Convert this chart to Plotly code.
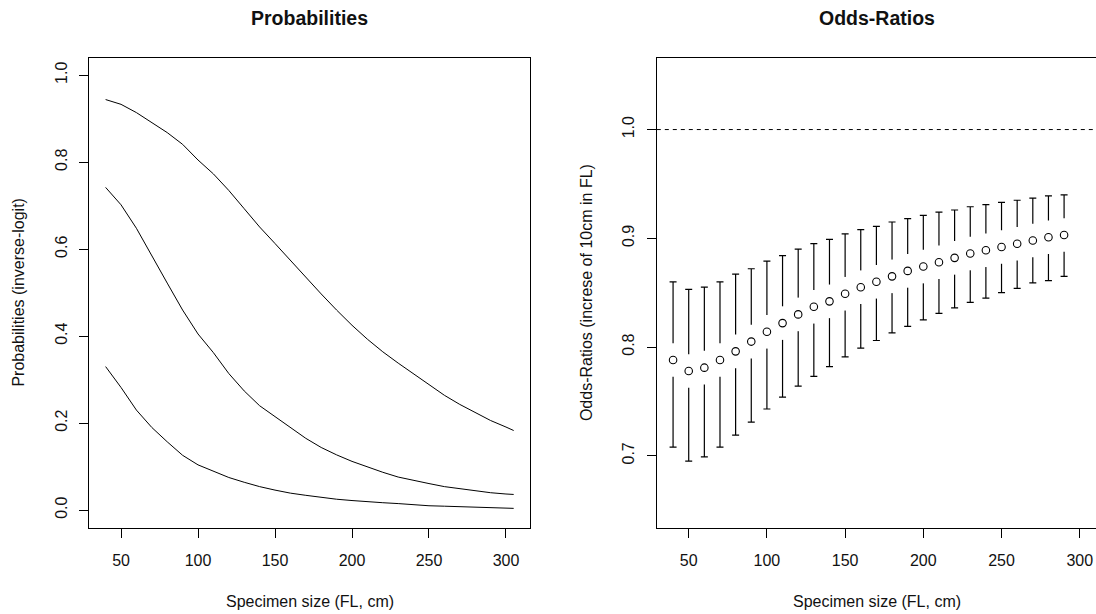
import plotly.graph_objects as go

# ---------------- data ----------------
fl_grid = [40, 50, 60, 70, 80, 90, 100, 110, 120, 130, 140, 150, 160, 170, 180,
           190, 200, 210, 220, 230, 240, 250, 260, 270, 280, 290, 300, 305]
prob_upper = [0.944, 0.933, 0.914, 0.892, 0.868, 0.841, 0.805, 0.773, 0.735, 0.693,
              0.651, 0.613, 0.574, 0.536, 0.497, 0.460, 0.425, 0.393, 0.364, 0.338,
              0.313, 0.289, 0.264, 0.243, 0.224, 0.206, 0.191, 0.183]
prob_mid = [0.742, 0.702, 0.648, 0.584, 0.522, 0.460, 0.405, 0.362, 0.314, 0.274,
            0.240, 0.215, 0.190, 0.165, 0.144, 0.127, 0.112, 0.099, 0.087, 0.076,
            0.068, 0.061, 0.054, 0.049, 0.044, 0.040, 0.037, 0.036]
prob_lower = [0.330, 0.282, 0.230, 0.190, 0.157, 0.126, 0.104, 0.089, 0.075, 0.064,
              0.054, 0.046, 0.039, 0.034, 0.029, 0.025, 0.022, 0.019, 0.017, 0.015,
              0.012, 0.010, 0.009, 0.008, 0.007, 0.006, 0.005, 0.004]

or_fl = [40, 50, 60, 70, 80, 90, 100, 110, 120, 130, 140, 150, 160,
         170, 180, 190, 200, 210, 220, 230, 240, 250, 260, 270, 280, 290]
or_est = [0.788, 0.778, 0.781, 0.788, 0.796, 0.805, 0.814, 0.822, 0.830, 0.837,
          0.842, 0.849, 0.855, 0.860, 0.865, 0.870, 0.874, 0.878, 0.882, 0.886,
          0.889, 0.892, 0.895, 0.898, 0.901, 0.903]
or_hi = [0.860, 0.853, 0.855, 0.860, 0.867, 0.872, 0.879, 0.884, 0.890, 0.895,
         0.899, 0.904, 0.908, 0.911, 0.915, 0.918, 0.921, 0.924, 0.926, 0.929,
         0.931, 0.933, 0.935, 0.937, 0.939, 0.940]
or_lo = [0.708, 0.695, 0.699, 0.708, 0.719, 0.731, 0.743, 0.754, 0.764, 0.773,
         0.782, 0.791, 0.799, 0.806, 0.813, 0.819, 0.825, 0.831, 0.836, 0.841,
         0.845, 0.850, 0.854, 0.859, 0.861, 0.865]

x_ticks = [50, 100, 150, 200, 250, 300]
prob_ticks = [0.0, 0.2, 0.4, 0.6, 0.8, 1.0]
or_ticks = [0.7, 0.8, 0.9, 1.0]
or_ref = 1.0

# ---------------- figure ----------------
W, H = 1096, 614
FONT = "Liberation Sans, Arial, sans-serif"
TXT = "#111111"

fig = go.Figure()

for ys in (prob_upper, prob_mid, prob_lower):
    fig.add_trace(go.Scatter(x=fl_grid, y=ys, mode="lines",
                             line=dict(color="black", width=1),
                             xaxis="x", yaxis="y", showlegend=False,
                             hoverinfo="skip"))

err_plus = [h - e for h, e in zip(or_hi, or_est)]
err_minus = [e - l for e, l in zip(or_est, or_lo)]

# error bars
fig.add_trace(go.Scatter(x=or_fl, y=or_est, mode="markers",
                         marker=dict(size=1, color="rgba(0,0,0,0)"),
                         error_y=dict(type="data", array=err_plus, arrayminus=err_minus,
                                      symmetric=False, color="black", thickness=1.2,
                                      width=3.5),
                         xaxis="x2", yaxis="y2", showlegend=False, hoverinfo="skip"))
# white gap around points (plotCI style)
fig.add_trace(go.Scatter(x=or_fl, y=or_est, mode="markers",
                         marker=dict(symbol="line-ns", size=24,
                                     line=dict(color="white", width=4)),
                         xaxis="x2", yaxis="y2", showlegend=False, hoverinfo="skip"))
# open circles
fig.add_trace(go.Scatter(x=or_fl, y=or_est, mode="markers",
                         marker=dict(symbol="circle-open", size=7.5,
                                     color="black", line=dict(color="black", width=1.1)),
                         xaxis="x2", yaxis="y2", showlegend=False, hoverinfo="skip"))

# domains in pixels
yb, yt = 527.5, 57.8
ydom = [1 - yb / H, 1 - yt / H]
x1dom = [89.3 / W, 530.0 / W]
x2dom = [656.8 / W, 1.0]

axis_common = dict(showline=True, mirror=True, linecolor="black", linewidth=1,
                   ticks="outside", ticklen=9, tickcolor="black", tickwidth=1,
                   showgrid=False, zeroline=False,
                   tickfont=dict(family=FONT, size=16, color=TXT))

fig.update_layout(
    width=W, height=H,
    margin=dict(l=0, r=0, t=0, b=0),
    paper_bgcolor="white", plot_bgcolor="white",
    showlegend=False,
    xaxis=dict(domain=x1dom, range=[29.4, 315.6], tickvals=x_ticks, anchor="y",
               ticklabelstandoff=9, **axis_common),
    yaxis=dict(domain=ydom, range=[-0.04, 1.04], tickvals=prob_ticks,
               tickformat=".1f", tickangle=-90, anchor="x",
               ticklabelstandoff=6, **axis_common),
    xaxis2=dict(domain=x2dom, range=[29.6, 310.4], tickvals=x_ticks, anchor="y2",
                ticklabelstandoff=9, **axis_common),
    yaxis2=dict(domain=ydom, range=[0.634, 1.066], tickvals=or_ticks,
                tickformat=".1f", tickangle=-90, anchor="x2",
                ticklabelstandoff=6, **axis_common),
)

# dashed reference line at OR = 1
fig.add_shape(type="line", xref="x2 domain", yref="y2", x0=0, x1=1,
              y0=or_ref, y1=or_ref, line=dict(color="black", width=1, dash="4px,4px"))

def px_x(p):
    return p / W

def px_y(p):
    return 1 - p / H

ann = [
    dict(text="<b>Probabilities</b>", x=px_x(309.6), y=px_y(18), size=19.5, angle=0),
    dict(text="<b>Odds-Ratios</b>", x=px_x(876.5), y=px_y(18), size=19.5, angle=0),
    dict(text="Specimen size (FL, cm)", x=px_x(309.6), y=px_y(601.5), size=16, angle=0),
    dict(text="Specimen size (FL, cm)", x=px_x(876.5), y=px_y(601.5), size=16, angle=0),
    dict(text="Probabilities (inverse-logit)", x=px_x(19), y=px_y(292.6), size=16, angle=-90),
    dict(text="Odds-Ratios (increse of 10cm in FL)", x=px_x(586.5), y=px_y(292.6), size=16, angle=-90),
]
for a in ann:
    fig.add_annotation(text=a["text"], x=a["x"], y=a["y"], xref="paper", yref="paper",
                       xanchor="center", yanchor="middle", showarrow=False,
                       textangle=a["angle"],
                       font=dict(family=FONT, size=a["size"], color=TXT))

fig.write_html("out.html")
